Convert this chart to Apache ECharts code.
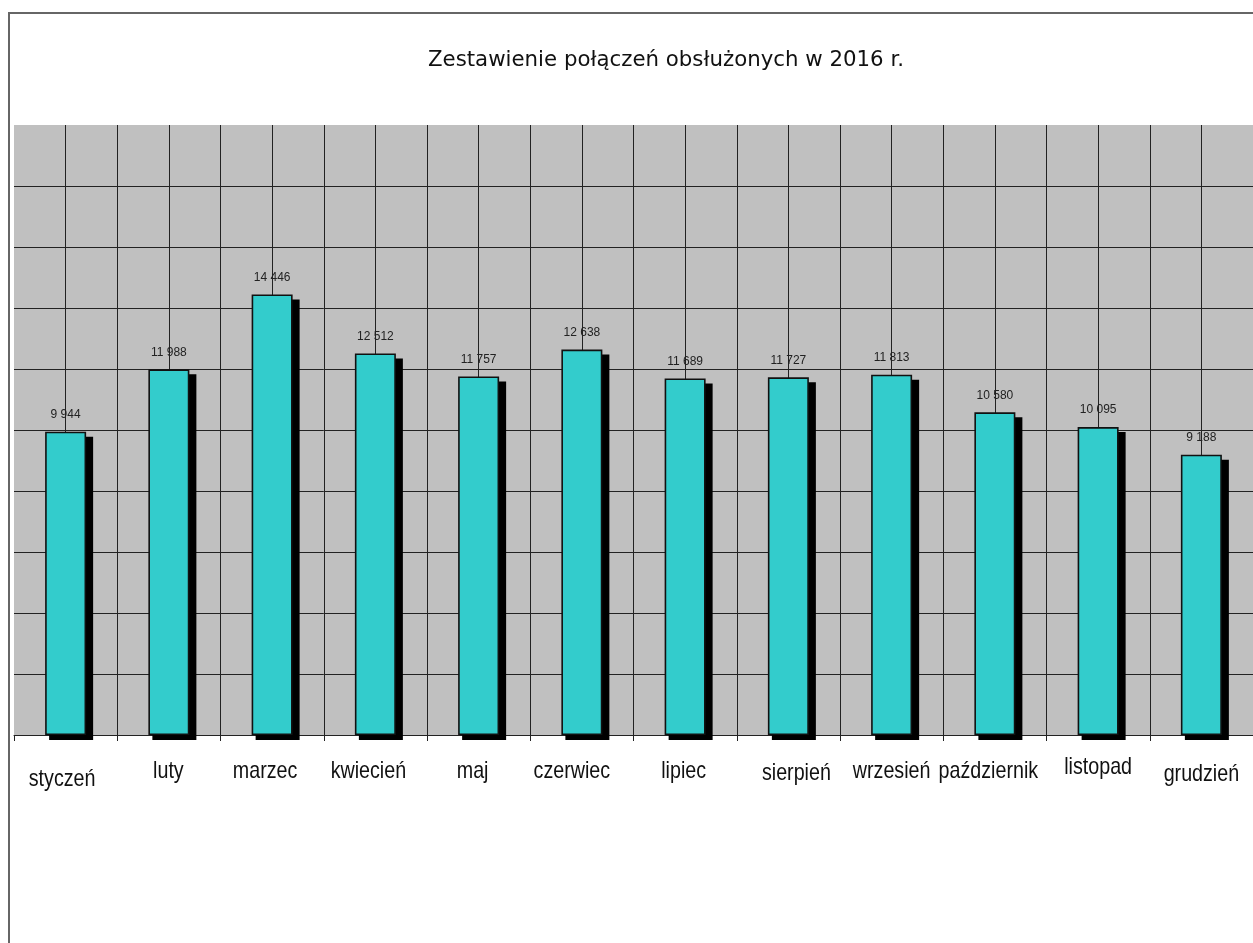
<!DOCTYPE html>
<html>
<head>
<meta charset="utf-8">
<script src="https://cdn.jsdelivr.net/npm/echarts@6/dist/echarts.min.js"></script>
<style>
html,body{margin:0;padding:0;background:#fff;}
#chart{width:1253px;height:943px;}
</style>
</head>
<body>
<div id="chart"></div>
<script>
const titleText = 'Zestawienie połączeń obsłużonych w 2016 r.';
const months = ['styczeń','luty','marzec','kwiecień','maj','czerwiec','lipiec','sierpień','wrzesień','październik','listopad','grudzień'];
const calls = [9944, 11988, 14446, 12512, 11757, 12638, 11689, 11727, 11813, 10580, 10095, 9188];
const valueLabels = ['9 944','11 988','14 446','12 512','11 757','12 638','11 689','11 727','11 813','10 580','10 095','9 188'];

// layout of the category labels as placed in the original (px offsets from the tick centre / base line)
const labelDx = [-3.5, -0.5, -7, -7, -6, -10, -1.5, 8, 0, -6.5, 0, 0];
const labelDy = [8, 0, 0, 0, 0, 0, 0, 2, 0, 0, -4, 3];

const sansFont = "'Liberation Sans', Arial, sans-serif";
const BAR_W = 41;

const chart = echarts.init(document.getElementById('chart'), null, {renderer: 'canvas'});

const baseGraphic = [
  {type: 'rect', shape: {x: 9, y: 13, width: 1300, height: 1000}, style: {fill: 'none', stroke: '#666', lineWidth: 2}, z: 100, silent: true},
  {type: 'text', x: 666, y: 60, style: {text: titleText, fontFamily: "'DejaVu Sans', sans-serif", fontSize: 21.3, fill: '#111', textAlign: 'center', textVerticalAlign: 'middle'}}
];

chart.setOption({
  backgroundColor: '#ffffff',
  animation: false,
  graphic: baseGraphic,
  grid: {left: 14, right: -7, top: 125, bottom: 208, show: true, backgroundColor: '#c0c0c0', borderWidth: 0, containLabel: false},
  xAxis: [
    {
      type: 'category', data: months, boundaryGap: true,
      axisLine: {show: true, lineStyle: {color: '#222', width: 1}},
      axisTick: {show: true, length: 6, interval: 0, lineStyle: {color: '#222'}},
      axisLabel: {show: false},
      splitLine: {show: false}
    },
    {
      type: 'value', min: 0, max: 24, interval: 1, position: 'bottom',
      axisLine: {show: false}, axisTick: {show: false}, axisLabel: {show: false},
      splitLine: {show: true, showMinLine: false, lineStyle: {color: '#222', width: 1}}
    }
  ],
  yAxis: {
    type: 'value', min: 0, max: 20000, interval: 2000,
    axisLine: {show: false}, axisTick: {show: false}, axisLabel: {show: false},
    splitLine: {show: true, showMaxLine: false, lineStyle: {color: '#222', width: 1}}
  },
  series: [
    {
      type: 'custom', xAxisIndex: 0, yAxisIndex: 0, silent: true, z: 2,
      data: months.map((m, i) => [m, calls[i]]),
      encode: {x: 0, y: 1},
      renderItem: (params, api) => {
        const top = api.coord([api.value(0), api.value(1)]);
        const bot = api.coord([api.value(0), 0]);
        return {
          type: 'rect',
          shape: {x: top[0] - BAR_W / 2 + 4, y: top[1] + 5, width: BAR_W + 3, height: bot[1] - top[1]},
          style: {fill: '#000'}
        };
      }
    },
    {
      type: 'bar', xAxisIndex: 0, yAxisIndex: 0, z: 3,
      data: calls, barWidth: BAR_W,
      itemStyle: {color: '#33cccc', borderColor: '#111', borderWidth: 1.6},
      label: {
        show: true, position: 'top', distance: 11,
        formatter: p => valueLabels[p.dataIndex],
        fontFamily: sansFont, fontSize: 12, color: '#222'
      }
    }
  ]
});

// category labels: the original uses a condensed Arial, so draw them with a horizontal squeeze
const baseY = chart.convertToPixel({yAxisIndex: 0}, 0);
const labelGraphics = months.map((m, i) => {
  const x = chart.convertToPixel({xAxisIndex: 0}, m);
  return {
    type: 'text', x: x + labelDx[i], y: baseY + 45 + labelDy[i] - 8.3,
    scaleX: 0.82, scaleY: 1,
    style: {text: m, fontFamily: sansFont, fontSize: 24, fill: '#111', textAlign: 'center', textVerticalAlign: 'middle'},
    silent: true
  };
});
chart.setOption({graphic: baseGraphic.concat(labelGraphics)});
</script>
</body>
</html>
